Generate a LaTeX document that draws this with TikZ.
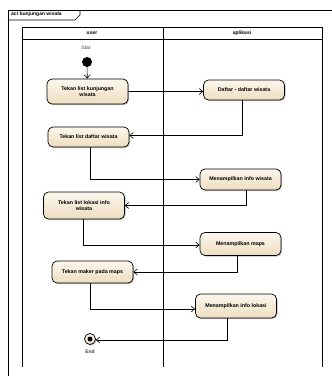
\documentclass[tikz,border=0pt]{standalone}
\usepackage{fontspec}
\setmainfont{Liberation Sans}
\usetikzlibrary{arrows.meta,shadows}
\definecolor{ctop}{HTML}{FCF7EE}
\definecolor{cbot}{HTML}{EEDDBF}
\begin{document}
\begin{tikzpicture}[x=1pt,y=-1pt,
  act/.style={draw=black, line width=0.7pt, rounded corners=5pt,
    top color=ctop, bottom color=cbot, minimum width=81pt, align=center,
    font=\fontsize{5.3}{6.3}\selectfont\bfseries, inner sep=1pt,
    drop shadow={shadow xshift=1pt, shadow yshift=-1pt, fill=black!45, opacity=0.6}},
  flow/.style={draw=black, line width=0.6pt, -{Straight Barb[length=3.5pt,width=6pt]}},
  lane/.style={draw=black, line width=0.8pt},
  small/.style={font=\fontsize{5}{6}\selectfont, text=black!75},
  hdr/.style={font=\fontsize{5}{6}\selectfont\bfseries}]
\useasboundingbox (0,0) rectangle (332,376);
% frame
\draw[line width=0.6pt] (8,376) -- (8,10) -- (332,10);
\draw[line width=0.6pt] (8,20) -- (75,20) -- (80,15) -- (80,10);
\node[hdr, anchor=west, inner sep=0pt] (title) at (11,14.5) {act kunjungan wisata};
% swimlanes
\draw[lane] (22,367) -- (22,27) -- (322,27) -- (322,367);
\draw[lane] (163,27) -- (163,367);
\draw[lane] (22,39) -- (322,39);
\node[hdr] (user) at (92,33) {user};
\node[hdr] (apl) at (242,33) {aplikasi};
% start
\node[circle, fill=black, minimum size=10pt, inner sep=0pt] (start) at (87,62) {};
\node[small] (startlbl) at (86,48) {Star};
% activities
\node[act, minimum height=25pt] (n1) at (87.5,91.5) {Tekan list kunjungan\\wisata};
\node[act, minimum height=20pt] (n2) at (244,90) {Daftar - daftar wisata};
\node[act, minimum height=20pt] (n3) at (88.5,137) {Tekan list daftar wisata};
\node[act, minimum height=21pt] (n4) at (240.5,179.5) {Menampilkan Info wisata};
\node[act, minimum height=27pt] (n5) at (84,205.5) {Tekan list lokasi info\\wisata};
\node[act, minimum height=23pt] (n6) at (240.5,244) {Menampilkan maps};
\node[act, minimum height=22pt] (n7) at (92.5,272) {Tekan maker pada maps};
\node[act, minimum height=24pt] (n8) at (236,306) {Menampilkan info lokasi};
% end
\node[circle, draw=black, line width=0.7pt, top color=ctop, bottom color=cbot, minimum size=11pt, inner sep=0pt,
  drop shadow={shadow xshift=1pt, shadow yshift=-1pt, fill=black!45, opacity=0.6}] (end) at (90,339) {};
\node[circle, fill=black, minimum size=5pt, inner sep=0pt] (enddot) at (end.center) {};
\node[small, font=\fontsize{5}{6}\selectfont\bfseries] (endlbl) at (90,352) {End};
% flows
\draw[flow] (start) -- (n1);
\draw[flow] (n1.east) -- (n1.east -| n2.west);
\draw[flow] ([xshift=-2pt]n2.south) |- ([yshift=1.5pt]n3.east);
\draw[flow] ([xshift=1.5pt]n3.south) |- (n4.west);
\draw[flow] ([xshift=5.5pt]n4.south) |- (n5.east);
\draw[flow] ([xshift=-1pt]n5.south) |- ([yshift=-1pt]n6.west);
\draw[flow] ([xshift=-3.5pt]n6.south) |- (n7.east);
\draw[flow] ([xshift=-2.5pt]n7.south) |- ([yshift=-3pt]n8.west);
\draw[flow] ([xshift=-9pt]n8.south) |- ([yshift=-1pt]end.east);
\end{tikzpicture}
\end{document}
